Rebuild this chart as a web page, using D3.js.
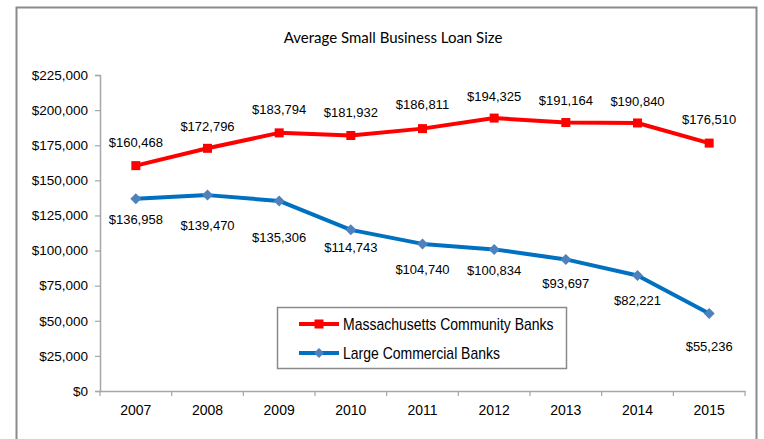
<!DOCTYPE html>
<html>
<head>
<meta charset="utf-8">
<script src="https://cdn.jsdelivr.net/npm/d3@7"></script>
<style>
  html, body { margin: 0; padding: 0; background: #fff; }
  svg { display: block; }
</style>
</head>
<body>
<svg id="chart" width="764" height="439"></svg>
<script>
// ---- data ----
const years = ["2007","2008","2009","2010","2011","2012","2013","2014","2015"];
const maCommunity = [160468,172796,183794,181932,186811,194325,191164,190840,176510];
const largeCommercial = [136958,139470,135306,114743,104740,100834,93697,82221,55236];
const yTicks = [0,25000,50000,75000,100000,125000,150000,175000,200000,225000];
const seriesNames = ["Massachusetts Community Banks","Large Commercial Banks"];
const titleText = "Average Small Business Loan Size";

// ---- layout ----
const plot = {left: 100, right: 745, top: 75, bottom: 391};
const redLabelDy = [-23,-22,-23,-23,-24,-22,-22,-22,-24];
const blueLabelDy = [21,30,36,18,26,21,24,25,33];

const svg = d3.select("#chart");
const fmt = v => "$" + d3.format(",")(v);
const baseFont = "'Liberation Sans',Arial,sans-serif";

// outer frame
svg.append("path")
  .attr("d", "M16.5,450 L16.5,7.5 L756.5,7.5 L756.5,450")
  .attr("fill", "none").attr("stroke", "#8a8a8a").attr("stroke-width", 2);

// title
svg.append("text").attr("x", 393).attr("y", 43)
  .attr("text-anchor", "middle")
  .style("font-family", "Lato, 'Open Sans', sans-serif")
  .style("font-size", "15px").attr("fill", "#000")
  .text(titleText);

const x = d3.scaleBand().domain(years).range([plot.left, plot.right]);
const y = d3.scaleLinear().domain([0, 225000]).range([plot.bottom, plot.top]);
const cx = d => x(d) + x.bandwidth() / 2;

// y axis
const yAxis = svg.append("g").attr("transform", `translate(${plot.left},0)`)
  .call(d3.axisLeft(y).tickValues(yTicks).tickFormat(fmt).tickSize(5).tickPadding(7));
yAxis.select(".domain").attr("stroke", "#a6a6a6").attr("stroke-width", 1.5);
yAxis.selectAll(".tick line").attr("stroke", "#a6a6a6").attr("stroke-width", 1.2);
yAxis.selectAll(".tick text").style("font-family", baseFont).style("font-size", "13.5px").attr("fill", "#000");

// x axis
const xAxis = svg.append("g").attr("transform", `translate(0,${plot.bottom})`)
  .call(d3.axisBottom(x).tickSize(0).tickPadding(14));
xAxis.select(".domain").attr("stroke", "#a6a6a6").attr("stroke-width", 1.5);
xAxis.selectAll(".tick text").style("font-family", baseFont).style("font-size", "14px").attr("fill", "#000");
// boundary ticks
const bounds = years.map(d => x(d)).concat([plot.right]);
xAxis.selectAll(".btick").data(bounds).enter().append("line")
  .attr("x1", d => d).attr("x2", d => d).attr("y1", 0).attr("y2", 5)
  .attr("stroke", "#a6a6a6").attr("stroke-width", 1.2);

// lines
const lineGen = vals => d3.line().x((d, i) => cx(years[i])).y(d => y(d))(vals);
svg.append("path").attr("d", lineGen(largeCommercial))
  .attr("fill", "none").attr("stroke", "#0070c0").attr("stroke-width", 4).attr("stroke-linejoin", "round");
svg.append("path").attr("d", lineGen(maCommunity))
  .attr("fill", "none").attr("stroke", "#ff0000").attr("stroke-width", 4).attr("stroke-linejoin", "round");

// markers
const diamond = s => `M0,${-s} L${s},0 L0,${s} L${-s},0 Z`;
svg.selectAll(".dmk").data(largeCommercial).enter().append("path")
  .attr("transform", (d, i) => `translate(${cx(years[i])},${y(d)})`)
  .attr("d", diamond(5.5)).attr("fill", "#4f81bd");
svg.selectAll(".smk").data(maCommunity).enter().append("rect")
  .attr("x", (d, i) => cx(years[i]) - 4.5).attr("y", d => y(d) - 4.5)
  .attr("width", 9).attr("height", 9).attr("fill", "#ff0000");

// labels
svg.selectAll(".rl").data(maCommunity).enter().append("text")
  .attr("x", (d, i) => cx(years[i])).attr("y", (d, i) => y(d) + redLabelDy[i])
  .attr("dy", "0.35em").attr("text-anchor", "middle")
  .style("font-family", baseFont).style("font-size", "13px").attr("fill", "#000")
  .text(fmt);
svg.selectAll(".bl").data(largeCommercial).enter().append("text")
  .attr("x", (d, i) => cx(years[i])).attr("y", (d, i) => y(d) + blueLabelDy[i])
  .attr("dy", "0.35em").attr("text-anchor", "middle")
  .style("font-family", baseFont).style("font-size", "13px").attr("fill", "#000")
  .text(fmt);

// legend
const lg = svg.append("g");
lg.append("rect").attr("x", 277.5).attr("y", 307.5).attr("width", 289).attr("height", 61)
  .attr("fill", "#fff").attr("stroke", "#8a8a8a").attr("stroke-width", 1.5);
const legendItems = [
  {name: seriesNames[0], color: "#ff0000", marker: "square", yy: 324},
  {name: seriesNames[1], color: "#0070c0", marker: "diamond", yy: 353}
];
legendItems.forEach(it => {
  lg.append("line").attr("x1", 299).attr("x2", 339).attr("y1", it.yy).attr("y2", it.yy)
    .attr("stroke", it.color).attr("stroke-width", 4);
  if (it.marker === "square") {
    lg.append("rect").attr("x", 319 - 4.5).attr("y", it.yy - 4.5).attr("width", 9).attr("height", 9).attr("fill", it.color);
  } else {
    lg.append("path").attr("transform", `translate(319,${it.yy})`).attr("d", diamond(5)).attr("fill", "#4f81bd");
  }
  lg.append("text").attr("transform", `translate(343,${it.yy}) scale(0.875,1)`).attr("dy", "0.35em")
    .style("font-family", baseFont).style("font-size", "16px").attr("fill", "#000")
    .text(it.name);
});
</script>
</body>
</html>
